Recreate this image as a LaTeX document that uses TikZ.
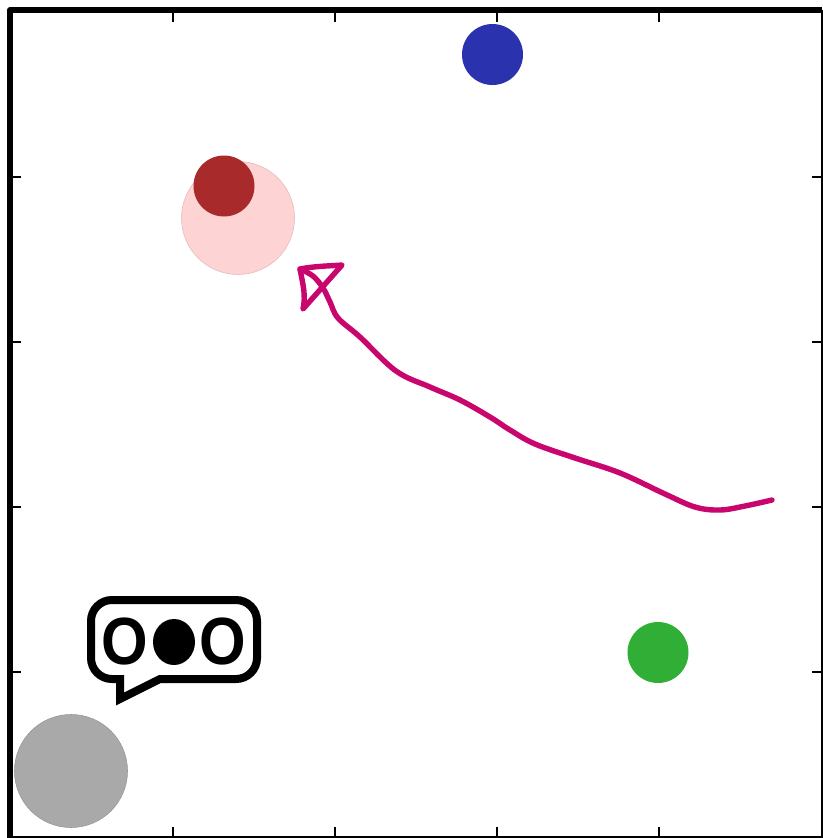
\documentclass[tikz,border=0pt]{standalone}
\usepackage{fontspec}
\setmainfont{Liberation Sans}
\usetikzlibrary{shapes.geometric}
\definecolor{blueDot}{HTML}{2B32AE}
\definecolor{redDot}{HTML}{A82A2A}
\definecolor{pinkDot}{HTML}{FDD3D3}
\definecolor{grayDot}{HTML}{A9A9A9}
\definecolor{greenDot}{HTML}{31AE36}
\definecolor{trace}{HTML}{C8066E}
\tikzset{
  dot/.style={circle,inner sep=0pt,outer sep=0pt,minimum size=#1},
  tickmark/.style={line width=2pt,black},
  bubbleO/.style={inner sep=0pt,xscale=0.95,yscale=1.06,transform shape,font=\bfseries\fontsize{63}{63}\selectfont},
}
\begin{document}
\begin{tikzpicture}[x=1pt,y=-1pt]
\useasboundingbox (0,0) rectangle (822,838);
\fill[white] (0,0) rectangle (822,838);
% frame
\draw[line width=6pt,line join=round] (10,838) -- (10,10) -- (822,10);
\draw[line width=2pt] (821.5,10) -- (821.5,837) -- (10,837);
% ticks
\foreach \x in {173,335,497,659} {
  \draw[tickmark] (\x,12) -- (\x,22);
  \draw[tickmark] (\x,836) -- (\x,827);
}
\foreach \y in {177,342,507,672} {
  \draw[tickmark] (12,\y) -- (21,\y);
  \draw[tickmark] (821,\y) -- (812,\y);
}
% circles
\node[dot=113pt,fill=pinkDot,draw=pinkDot!90!black,line width=0.6pt] (pink) at (238,218) {};
\node[dot=61pt,fill=redDot] (red) at (224,186) {};
\node[dot=61pt,fill=blueDot] (blue) at (492.5,54.5) {};
\node[dot=61pt,fill=greenDot] (green) at (658,652.5) {};
\node[dot=113pt,fill=grayDot,draw=grayDot!90!black,line width=0.6pt] (gray) at (71,771) {};
% speech bubble
\draw[line width=8pt,miter limit=10,fill=white]
  (120,679) -- (120,699) -- (160,679) -- (236,679)
  arc[start angle=90,end angle=0,radius=21] -- (257,621)
  arc[start angle=0,end angle=-90,radius=21] -- (112,600)
  arc[start angle=-90,end angle=-180,radius=21] -- (91,658)
  arc[start angle=180,end angle=90,radius=21] -- cycle;
\node[bubbleO] (o1) at (124.5,642) {O};
\node[ellipse,fill=black,inner sep=0pt,minimum width=42pt,minimum height=46pt] (o2) at (174,642) {};
\node[bubbleO] (o3) at (222.5,642) {O};
% hand-drawn arrow
\draw[trace,line width=5.4pt,line cap=round,line join=round]
  plot[smooth,tension=0.6] coordinates {
    (772,500) (745,506) (720,510) (695,507) (665,494) (620,473) (575,458)
    (535,444) (510,430) (490,417) (460,400) (430,387) (396,371)
    (360,337) (338,318) (330,302) (323,288) (313,276) (300,269)};
\draw[trace,line width=5.4pt,line cap=round,line join=round]
  (300,269) .. controls (315,266) and (330,266) .. (342,265) -- (303,309)
  .. controls (306,295) and (303,285) .. (300,269);
\end{tikzpicture}
\end{document}
